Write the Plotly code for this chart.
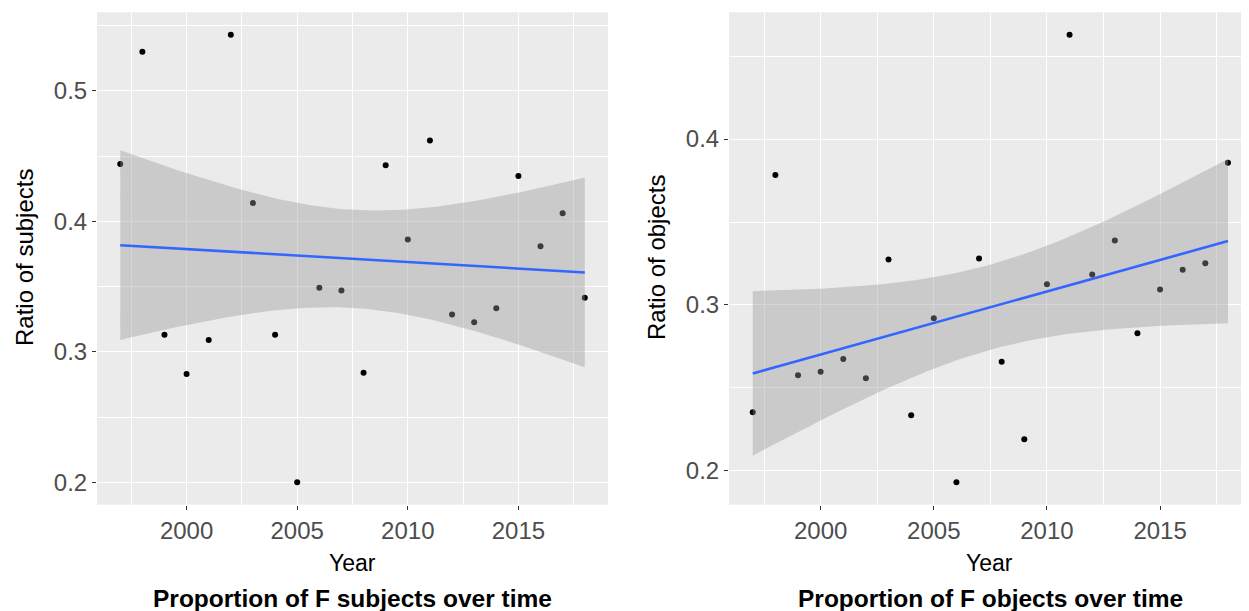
import numpy as np
import plotly.graph_objects as go

years = list(range(1997, 2019))
subjects_ratio = [0.444, 0.530, 0.313, 0.283, 0.309, 0.543, 0.414, 0.313, 0.200, 0.349, 0.347,
                  0.284, 0.443, 0.386, 0.462, 0.3285, 0.3226, 0.3334, 0.4347, 0.3808, 0.4061, 0.3415]
objects_ratio = [0.2353, 0.3783, 0.2577, 0.2597, 0.2675, 0.2558, 0.3274, 0.2335, 0.292, 0.1931, 0.328,
                 0.2657, 0.219, 0.3125, 0.4629, 0.3183, 0.3388, 0.283, 0.3093, 0.3212, 0.3252, 0.3857]

x_ticks = [2000, 2005, 2010, 2015]
titles = ["Proportion of F subjects over time", "Proportion of F objects over time"]
y_titles = ["Ratio of subjects", "Ratio of objects"]

# the page places the figure 8px from the top-left corner (body margin)
OFF = 8
W, H = 1249 - OFF, 611 - OFF
T_QUANT = 2.085963  # t(0.975, df=20)


def px_x(px):
    return (px - OFF) / W


def px_y(py):
    return 1 - (py - OFF) / H


def lm_band(x, y, n_grid=80):
    x = np.asarray(x, float)
    y = np.asarray(y, float)
    n = len(x)
    xm, ym = x.mean(), y.mean()
    sxx = ((x - xm) ** 2).sum()
    b1 = ((x - xm) * (y - ym)).sum() / sxx
    b0 = ym - b1 * xm
    res = y - (b0 + b1 * x)
    s = np.sqrt((res ** 2).sum() / (n - 2))
    g = np.linspace(x.min(), x.max(), n_grid)
    fit = b0 + b1 * g
    se = s * np.sqrt(1.0 / n + (g - xm) ** 2 / sxx)
    return g, fit, fit - T_QUANT * se, fit + T_QUANT * se


fig = go.Figure()

panels = [
    dict(y=subjects_ratio, xa="x", ya="y", dom=[px_x(97), px_x(608)], xr=[1995.95, 2019.05],
         ytv=[0.2, 0.3, 0.4, 0.5], ytitle_x=24, cap_x=(97 + 608) / 2),
    dict(y=objects_ratio, xa="x2", ya="y2", dom=[px_x(729), 1.0], xr=[1995.95, 2018.93],
         ytv=[0.2, 0.3, 0.4], ytitle_x=656, cap_x=(729 + 1253) / 2),
]

ydom = [px_y(504.7), px_y(12.3)]

for i, p in enumerate(panels):
    g, fit, lo, hi = lm_band(years, p["y"])
    fig.add_trace(go.Scatter(x=years, y=p["y"], mode="markers", xaxis=p["xa"], yaxis=p["ya"],
                             marker=dict(size=6, color="black", line=dict(width=0)),
                             showlegend=False, hoverinfo="skip"))
    fig.add_trace(go.Scatter(x=list(g) + list(g[::-1]), y=list(hi) + list(lo[::-1]),
                             mode="lines", fill="toself", fillcolor="rgba(153,153,153,0.4)",
                             line=dict(width=0), xaxis=p["xa"], yaxis=p["ya"],
                             showlegend=False, hoverinfo="skip"))
    fig.add_trace(go.Scatter(x=g, y=fit, mode="lines", line=dict(color="#3366FF", width=2.6),
                             xaxis=p["xa"], yaxis=p["ya"], showlegend=False, hoverinfo="skip"))

    allv = list(p["y"]) + list(lo) + list(hi)
    ymin, ymax = min(allv), max(allv)
    pad = 0.05 * (ymax - ymin)
    yr = [ymin - pad, ymax + pad]

    axis_common = dict(showgrid=True, gridcolor="white", gridwidth=1.4, zeroline=False,
                       showline=False, ticks="outside", ticklen=4, tickwidth=1,
                       tickcolor="#333333",
                       tickfont=dict(family="Liberation Sans, Arial", size=24, color="#4D4D4D"))
    xname = "xaxis" if i == 0 else "xaxis2"
    yname = "yaxis" if i == 0 else "yaxis2"
    fig.update_layout(**{
        xname: dict(domain=p["dom"], range=p["xr"], tickvals=x_ticks, anchor=p["ya"],
                    minor=dict(dtick=2.5, tick0=2000, showgrid=True, gridcolor="white",
                               gridwidth=0.7, ticks=""),
                    **axis_common),
        yname: dict(domain=ydom, range=yr, tickvals=p["ytv"], anchor=p["xa"],
                    tickformat=".1f",
                    minor=dict(dtick=0.05, tick0=0.0, showgrid=True, gridcolor="white",
                               gridwidth=0.7, ticks=""),
                    **axis_common),
    })

    cx = (p["dom"][0] + p["dom"][1]) / 2
    fig.add_annotation(text="Year", xref="paper", yref="paper", x=cx, y=px_y(563),
                       showarrow=False, xanchor="center", yanchor="middle",
                       font=dict(family="Liberation Sans, Arial", size=23, color="black"))
    fig.add_annotation(text=f"<b>{titles[i]}</b>", xref="paper", yref="paper",
                       x=px_x(p["cap_x"]), y=px_y(598), showarrow=False,
                       xanchor="center", yanchor="middle",
                       font=dict(family="Liberation Sans, Arial", size=24.5, color="black"))
    fig.add_annotation(text=y_titles[i], xref="paper", yref="paper",
                       x=px_x(p["ytitle_x"]), y=px_y(258), textangle=-90,
                       showarrow=False, xanchor="center", yanchor="middle",
                       font=dict(family="Liberation Sans, Arial", size=24, color="black"))

fig.update_layout(width=W, height=H, margin=dict(l=0, r=0, t=0, b=0),
                  plot_bgcolor="#EBEBEB", paper_bgcolor="white", showlegend=False)

fig.write_html("out.html")
